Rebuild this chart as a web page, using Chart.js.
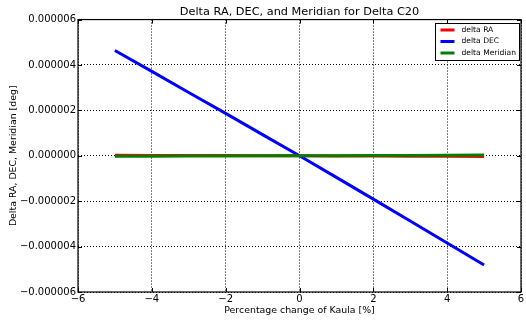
<!DOCTYPE html>
<html>
<head>
<meta charset="utf-8">
<script src="https://cdn.jsdelivr.net/npm/chart.js@4/dist/chart.umd.min.js"></script>
<style>
  html, body { margin: 0; padding: 0; background: #fff; }
  #wrap { width: 526px; height: 322px; }
</style>
</head>
<body>
<div id="wrap"><canvas id="c" width="526" height="322"></canvas></div>
<script>
// percentage change of Kaula
const kaulaPct = [-5, -4, -3, -2, -1, 0, 1, 2, 3, 4, 5];
// deltas in degrees
const deltaRA = [2e-8, 1.6e-8, 1.2e-8, 0.8e-8, 0.4e-8, 0, -0.5e-8, -1e-8, -1.6e-8, -2.2e-8, -3e-8];
const deltaDEC = [4.64e-6, 3.72e-6, 2.79e-6, 1.87e-6, 0.93e-6, 0, -0.95e-6, -1.91e-6, -2.87e-6, -3.84e-6, -4.81e-6];
const deltaMeridian = [-2e-8, -1.6e-8, -1.2e-8, -0.8e-8, -0.4e-8, 0, 0.5e-8, 1e-8, 1.6e-8, 2.2e-8, 3e-8];
const xTicks = [-6, -4, -2, 0, 2, 4, 6];
const yTicks = [-6e-6, -4e-6, -2e-6, 0, 2e-6, 4e-6, 6e-6];

const FONT = "'DejaVu Sans', sans-serif";

function pts(ys) {
  return kaulaPct.map((x, i) => ({ x: x, y: ys[i] }));
}

function fmtY(v) {
  const s = (Math.round(v * 1e6) / 1e6).toFixed(6);
  return s.replace('-', '\u2212');
}
function fmtX(v) {
  return String(v).replace('-', '\u2212');
}

// inward ticks, frame, axis titles and boxed legend
const decor = {
  id: 'decor',
  afterDraw(chart) {
    const ctx = chart.ctx;
    const a = chart.chartArea;
    const xs = chart.scales.x, ys = chart.scales.y;
    ctx.save();
    ctx.strokeStyle = '#000';
    ctx.lineWidth = 1;
    ctx.beginPath();
    xTicks.forEach(t => {
      const px = Math.round(xs.getPixelForValue(t)) + 0.5;
      ctx.moveTo(px, a.bottom); ctx.lineTo(px, a.bottom - 4);
      ctx.moveTo(px, a.top); ctx.lineTo(px, a.top + 4);
    });
    yTicks.forEach(t => {
      const py = Math.round(ys.getPixelForValue(t)) + 0.5;
      ctx.moveTo(a.left, py); ctx.lineTo(a.left + 4, py);
      ctx.moveTo(a.right, py); ctx.lineTo(a.right - 4, py);
    });
    ctx.stroke();
    ctx.lineWidth = 1.2;
    ctx.strokeRect(a.left, a.top, a.right - a.left, a.bottom - a.top);

    // axis titles
    ctx.fillStyle = '#000';
    ctx.font = '9.4px ' + FONT;
    ctx.textAlign = 'center';
    ctx.textBaseline = 'middle';
    ctx.fillText('Percentage change of Kaula [%]', (a.left + a.right) / 2, 311);
    ctx.save();
    ctx.translate(14, (a.top + a.bottom) / 2);
    ctx.rotate(-Math.PI / 2);
    ctx.fillText('Delta RA, DEC, Meridian [deg]', 0, 0);
    ctx.restore();

    // legend
    const lx = 435.5, ly = 23.5, lw = 84, lh = 37;
    ctx.fillStyle = '#fff';
    ctx.fillRect(lx, ly, lw, lh);
    ctx.strokeStyle = '#000';
    ctx.lineWidth = 1;
    ctx.strokeRect(lx, ly, lw, lh);
    ctx.font = '7.6px ' + FONT;
    ctx.textAlign = 'left';
    chart.data.datasets.forEach((ds, i) => {
      const y = ly + 6.5 + i * 11.5;
      ctx.strokeStyle = ds.borderColor;
      ctx.lineWidth = 3;
      ctx.beginPath();
      ctx.moveTo(lx + 5, y); ctx.lineTo(lx + 19, y);
      ctx.stroke();
      ctx.fillStyle = '#000';
      ctx.fillText(ds.label, lx + 26, y);
    });
    ctx.restore();
  }
};

const gridOpts = { color: '#000', lineWidth: 1, drawTicks: false, tickLength: 0 };
const borderOpts = { display: false, dash: [1, 2] };

new Chart(document.getElementById('c'), {
  type: 'line',
  data: {
    datasets: [
      // later series sit on top of earlier ones
      { label: 'delta RA', data: pts(deltaRA), borderColor: '#ff0000', borderWidth: 3, order: 3 },
      { label: 'delta DEC', data: pts(deltaDEC), borderColor: '#0000ff', borderWidth: 3, order: 2 },
      { label: 'delta Meridian', data: pts(deltaMeridian), borderColor: '#008000', borderWidth: 3, order: 1 }
    ]
  },
  options: {
    responsive: false,
    animation: false,
    events: [],
    elements: { point: { radius: 0 }, line: { tension: 0 } },
    layout: { padding: { left: 0, right: 5, top: 0, bottom: 0 } },
    plugins: {
      legend: { display: false },
      tooltip: { enabled: false },
      title: {
        display: true,
        fullSize: false,
        text: 'Delta RA, DEC, and Meridian for Delta C20',
        color: '#000',
        font: { family: FONT, size: 11.3, weight: 'normal' },
        padding: { top: 5, bottom: 1 }
      }
    },
    scales: {
      x: {
        type: 'linear',
        min: -6, max: 6,
        afterBuildTicks(s) { s.ticks = xTicks.map(v => ({ value: v })); },
        afterFit(s) { s.height = 30; },
        grid: gridOpts,
        border: borderOpts,
        ticks: {
          color: '#000', padding: 1,
          font: { family: FONT, size: 10 },
          callback: v => fmtX(v)
        }
      },
      y: {
        min: -6e-6, max: 6e-6,
        afterBuildTicks(s) { s.ticks = yTicks.map(v => ({ value: v })); },
        afterFit(s) { s.width = 78; },
        grid: gridOpts,
        border: borderOpts,
        ticks: {
          color: '#000', padding: 2,
          font: { family: FONT, size: 10 },
          callback: v => fmtY(v)
        }
      }
    }
  },
  plugins: [decor]
});
</script>
</body>
</html>
